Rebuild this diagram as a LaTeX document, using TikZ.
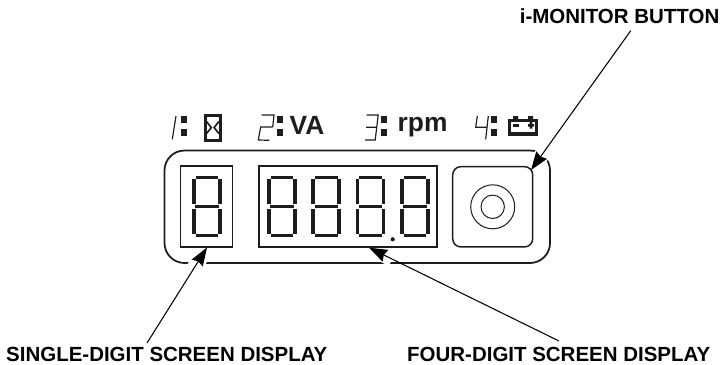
\documentclass[tikz,border=0pt]{standalone}
\usepackage{fontspec}
\setmainfont{Liberation Sans}
\usetikzlibrary{arrows.meta,calc}
\definecolor{ink}{RGB}{30,28,29}

\tikzset{
  dispbox/.style={draw=ink, line width=1.25pt, inner sep=0pt, outer sep=0pt},
  callout/.style={font=\fontsize{17.4pt}{20pt}\selectfont\bfseries, text=black, inner sep=0pt},
  unitlabel/.style={font=\fontsize{22.4pt}{24pt}\selectfont\bfseries, text=ink, inner sep=0pt},
  leader/.style={-{Stealth[length=15.5pt,width=11pt,inset=1.5pt]}, black, line width=0.9pt},
  halo/.style={white, line width=13pt},
  thinseg/.style={ink, line width=1pt},
  pics/segdigit/.style={code={
    \draw[ink, line width=3.2pt]
      (3.5,1.7) -- (26,1.7)
      (1.7,3.5) -- (1.7,28.5)
      (27.8,3.5) -- (27.8,28.5)
      (3,30.7) -- (26.5,30.7)
      (1.7,33) -- (1.7,58)
      (27.8,33) -- (27.8,58)
      (3.5,59.8) -- (26,59.8);
  }}
}

\begin{document}
\begin{tikzpicture}[x=0.85pt,y=-0.85pt]
    \useasboundingbox (0,0) rectangle (720,364);
    % housing
    \node[dispbox, line width=1.5pt, rounded corners=17pt, minimum width=327.7pt, minimum height=95.6pt]
      (housing) at (357.25,206.75) {};
    % leader ends
    \coordinate (singlefree) at (147,343);
    \coordinate (fourfree) at (559,341);
    \coordinate (buttonfree) at (630.7,30.7);
    \coordinate (fourtip) at (369,247.7);
    \coordinate (buttontip) at (531,170);
    % gaps in the housing line
    \coordinate (singletip) at (207,247.5);
    \draw[halo] ($(singletip)!4pt!(singlefree)$) -- ($(singletip)!22pt!(singlefree)$);
    \draw[halo] ($(fourtip)!4pt!(fourfree)$) -- ($(fourtip)!22pt!(fourfree)$);
    \draw[halo] ($(buttontip)!4pt!(buttonfree)$) -- ($(buttontip)!22pt!(buttonfree)$);
    % screens and button
    \node[dispbox, minimum width=44.2pt, minimum height=68.9pt] (singlebox) at (206.7,206.5) {};
    \node[dispbox, minimum width=151.3pt, minimum height=68.9pt] (fourbox) at (348,206.5) {};
    \node[dispbox, rounded corners=7pt, minimum width=68pt, minimum height=68.3pt] (button) at (492.7,206.8) {};
    \node[circle, draw=ink, line width=0.85pt, inner sep=0pt, minimum size=37.4pt] (outerring) at (button.center) {};
    \node[circle, draw=ink, line width=0.85pt, inner sep=0pt, minimum size=19.9pt] (innerring) at (button.center) {};
    % digits
    \foreach \x in {192, 267.3, 311.5, 355.8, 400.1}{
      \pic at (\x,175.7) {segdigit};
    }
    \fill[ink] (392.7,239.3) circle (1.8pt);
    % small digits on top
    \draw[thinseg] (176,116) -- (172.3,139.3);
    \draw[thinseg] (261.7,115) -- (274,115) -- (272.7,126.9) -- (260.7,127) -- (258.3,140) -- (269.3,140.3);
    \draw[thinseg] (366.7,115) -- (378.2,115) -- (375.2,140) -- (365,140) (366,127.3) -- (376.8,127.3);
    \draw[thinseg] (477.3,116) -- (475.7,127.3) -- (487.3,127.3) (488.3,116) -- (485.7,139.3);
    % colons
    \foreach \x in {180.7, 276.7, 381, 491}{
      \fill[ink] (\x,116.3) rectangle ++(6.2,6.4);
      \fill[ink] (\x,129.3) rectangle ++(6.2,6.4);
    }
    % hourglass
    \draw[ink, line width=2.5pt] (205.2,115.5) rectangle (220.2,140.2);
    \draw[ink, line width=1.4pt] (206.5,121.5) -- (211.3,127.6) -- (206.5,133.5) (218.9,121.5) -- (214.1,127.6) -- (218.9,133.5);
    % units
    \node[unitlabel, anchor=base west] (valabel) at (289.5,134) {VA};
    \node[unitlabel, anchor=base west] (rpmlabel) at (397.5,131.7) {rpm};
    % battery
    \fill[ink] (508.3,119) rectangle (537.7,135.7);
    \fill[ink] (513,116) rectangle (518,119) (528,116) rectangle (533,119);
    \fill[white] (511.2,122) rectangle (534.8,132.2);
    \fill[ink] (512.5,124) rectangle (518.5,126.6);
    \fill[ink] (528,124) rectangle (534,126.6) (529.7,122) rectangle (532.3,128.6);
    % callouts
    \node[callout, anchor=base east] (buttonlabel) at (719.5,23.5) {i-MONITOR BUTTON};
    \node[callout, anchor=base west] (singlelabel) at (6,361.2) {SINGLE-DIGIT SCREEN DISPLAY};
    \node[callout, anchor=base west] (fourlabel) at (407,361.2) {FOUR-DIGIT SCREEN DISPLAY};
    \draw[leader] (singlefree) -- (singletip);
    \draw[leader] (fourfree) -- (fourtip);
    \draw[leader] (buttonfree) -- (buttontip);
  \end{tikzpicture}
\end{document}
